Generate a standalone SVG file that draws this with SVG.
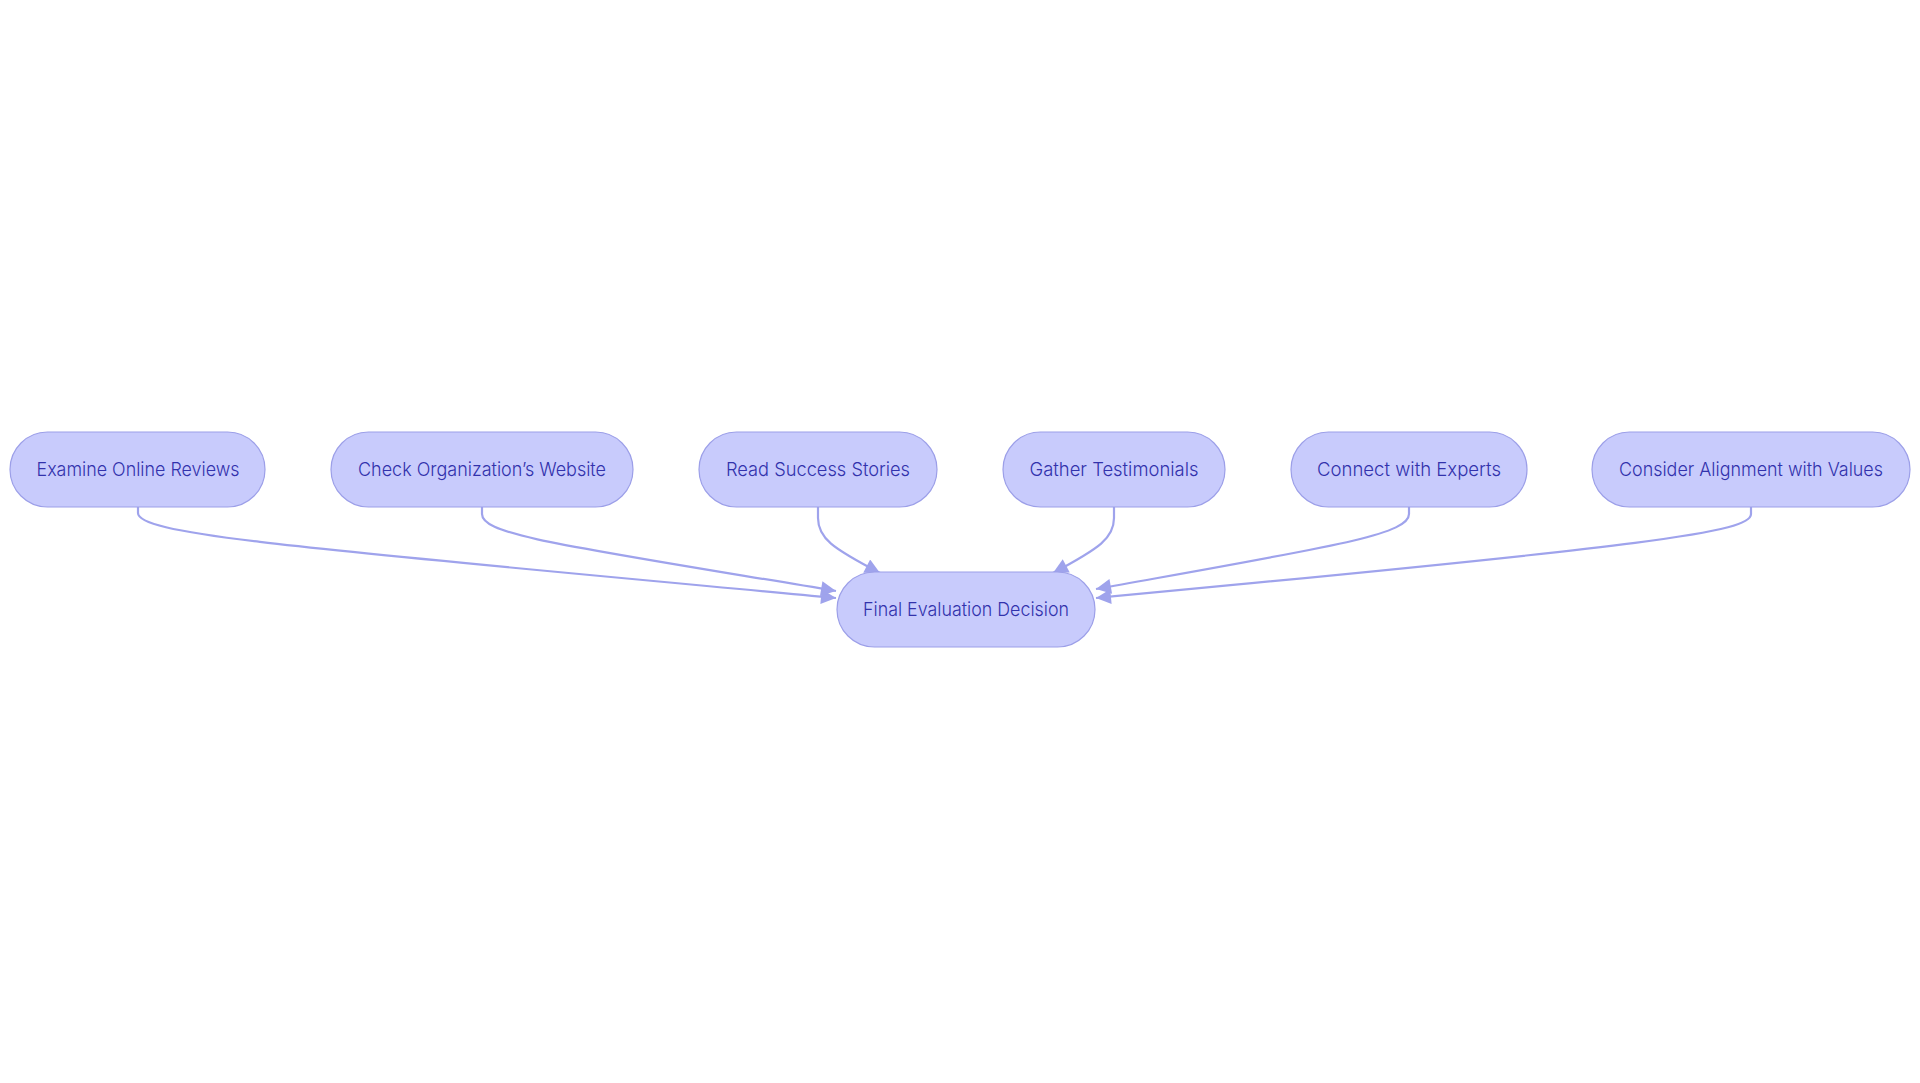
<svg xmlns="http://www.w3.org/2000/svg" width="1920" height="1083" viewBox="0 0 1920 1083">
<style>
.node rect{fill:#c8cbfc;stroke:#9c9fe8;stroke-width:1.2}
.node text{font-family:Inter,"Liberation Sans",sans-serif;font-size:19px;font-weight:300;fill:#3232ac;text-anchor:middle}
.edge{fill:none;stroke:#9fa3ec;stroke-width:2.2}
</style>
<defs>
<marker id="arr" viewBox="0 0 10 10" refX="10" refY="5" markerUnits="userSpaceOnUse" markerWidth="18" markerHeight="15" orient="auto">
<path d="M0,0 L10,5 L0,10 z" fill="#9fa3ec"/>
</marker>
</defs>
<rect width="1920" height="1083" fill="#ffffff"/>
<g id="connectors">
<path class="edge" marker-end="url(#arr)" d="M138,507 L138,513 C138,535 300,548 836,598"/>
<path class="edge" marker-end="url(#arr)" d="M482,507 L482,514 C482,535 560,545 836,591"/>
<path class="edge" marker-end="url(#arr)" d="M818,507 L818,518 C818,538 832,548 880,573"/>
<path class="edge" marker-end="url(#arr)" d="M1114,507 L1114,518 C1114,538 1100,548 1053,573"/>
<path class="edge" marker-end="url(#arr)" d="M1409,507 L1409,514 C1409,535 1330,547 1096,589"/>
<path class="edge" marker-end="url(#arr)" d="M1751,507 L1751,514 C1751,532 1660,545 1096,598"/>
</g>
<g id="node-examine" class="node">
<rect x="10" y="432" width="255" height="75" rx="37.5"/>
<text x="138" y="476" textLength="203" lengthAdjust="spacingAndGlyphs">Examine Online Reviews</text>
</g>
<g id="node-check" class="node">
<rect x="331" y="432" width="302" height="75" rx="37.5"/>
<text x="482" y="476" textLength="248" lengthAdjust="spacingAndGlyphs">Check Organization’s Website</text>
</g>
<g id="node-read" class="node">
<rect x="699" y="432" width="238" height="75" rx="37.5"/>
<text x="818" y="476" textLength="184" lengthAdjust="spacingAndGlyphs">Read Success Stories</text>
</g>
<g id="node-gather" class="node">
<rect x="1003" y="432" width="222" height="75" rx="37.5"/>
<text x="1114" y="476" textLength="169" lengthAdjust="spacingAndGlyphs">Gather Testimonials</text>
</g>
<g id="node-connect" class="node">
<rect x="1291" y="432" width="236" height="75" rx="37.5"/>
<text x="1409" y="476" textLength="184" lengthAdjust="spacingAndGlyphs">Connect with Experts</text>
</g>
<g id="node-consider" class="node">
<rect x="1592" y="432" width="318" height="75" rx="37.5"/>
<text x="1751" y="476" textLength="264" lengthAdjust="spacingAndGlyphs">Consider Alignment with Values</text>
</g>
<g id="node-final" class="node">
<rect x="837" y="572" width="258" height="75" rx="37.5"/>
<text x="966" y="616" textLength="206" lengthAdjust="spacingAndGlyphs">Final Evaluation Decision</text>
</g>
</svg>
